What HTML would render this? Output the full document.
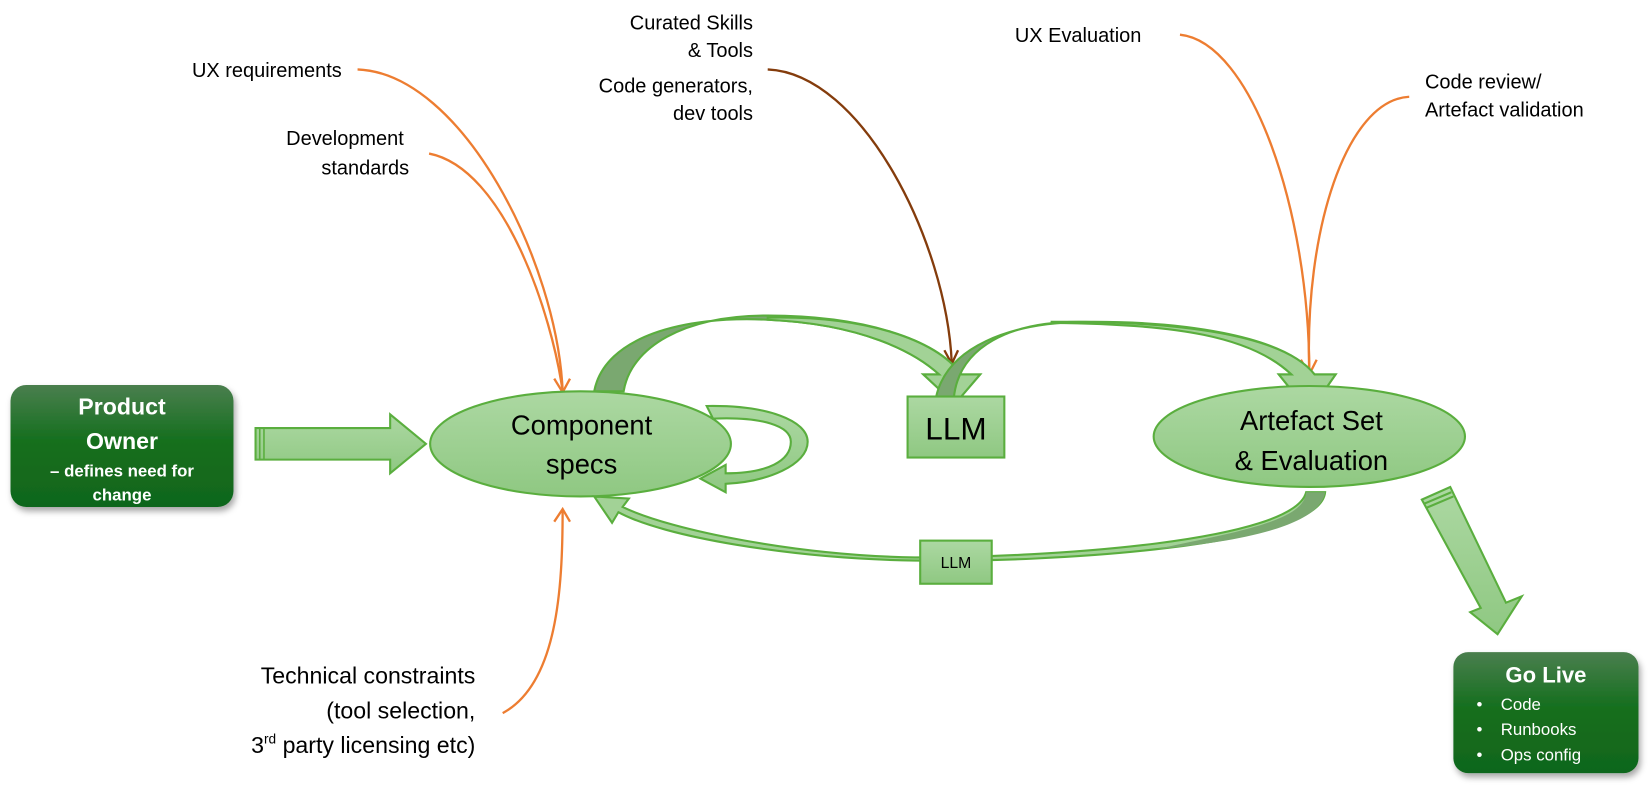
<!DOCTYPE html>
<html><head><meta charset="utf-8"><style>
body{margin:0;background:#fff;}
svg{display:block;font-family:"Liberation Sans",sans-serif;}
</style></head><body>
<svg width="1649" height="792" viewBox="0 0 1568 753" preserveAspectRatio="none" xmlns="http://www.w3.org/2000/svg">
<defs>
<linearGradient id="dg" x1="0" y1="0" x2="0" y2="1"><stop offset="0" stop-color="#4a7f4e"/><stop offset="0.45" stop-color="#166f1f"/><stop offset="1" stop-color="#10661a"/></linearGradient>
<linearGradient id="lg" x1="0" y1="0" x2="0" y2="1"><stop offset="0" stop-color="#acd8a2"/><stop offset="1" stop-color="#8fc882"/></linearGradient>
<filter id="sh" x="-10%" y="-10%" width="130%" height="130%"><feDropShadow dx="2" dy="4" stdDeviation="3" flood-color="#000" flood-opacity="0.35"/></filter>
</defs>

<g fill="none" stroke="#ed7d31" stroke-width="2.2">
<path d="M340,66 C440,70 530,250 535,372"/>
<path d="M408,146 C480,160 525,300 535,372"/>
<path d="M527,360 L535,373 L542,360"/>
<path d="M478,678 C530,650 535,560 535,484"/>
<path d="M527,496 L535,484 L542,496"/>
<path d="M1122,33 C1190,40 1245,200 1245,355"/>
<path d="M1340,92 C1280,95 1240,220 1245,355"/>
<path d="M1237,342 L1245,356 L1252,342"/>
</g>
<g fill="none" stroke="#843c0c" stroke-width="2.2">
<path d="M730,66 C820,70 900,230 905,345"/>
<path d="M898,333 L905,346 L911,333"/>
</g>

<rect x="10" y="366" width="212" height="116" rx="15" fill="url(#dg)" filter="url(#sh)"/>
<text fill="#fff" font-weight="bold" text-anchor="middle" font-size="22"><tspan x="116" y="394">Product</tspan><tspan x="116" y="427">Owner</tspan></text>
<text fill="#fff" font-weight="bold" text-anchor="middle" font-size="16"><tspan x="116" y="453">– defines need for</tspan><tspan x="116" y="476">change</tspan></text>

<path d="M243,407 L371,407 L371,394 L405,422 L371,450 L371,437 L243,437 Z" fill="url(#lg)" stroke="#5aae3e" stroke-width="2"/>
<path d="M247,407 V437 M251,407 V437" stroke="#5aae3e" stroke-width="1.5"/>

<path d="M565,372 C575,320 650,300 730,304 C820,308 870,335 893,356 L878,356 L908,384 L932,356 L914,356 C890,322 820,300 730,300 C650,300 600,330 593,372 Z" fill="#7aa870" stroke="#5aae3e" stroke-width="2"/>
<path d="M730,304 C820,308 870,335 893,356 L878,356 L908,384 L932,356 L914,356 C890,322 820,300 730,302 Z" fill="#a2d296" stroke="#5aae3e" stroke-width="2"/>
<path d="M907,378 C912,330 960,305 1030,306 C1120,308 1190,320 1228,356 L1216,356 L1245,392 L1270,356 L1250,356 C1220,318 1120,305 1030,306 C960,307 900,330 890,378 Z" fill="#7aa870" stroke="#5aae3e" stroke-width="2"/>
<path d="M1000,307 C1120,308 1190,320 1228,356 L1216,356 L1245,392 L1270,356 L1250,356 C1220,318 1120,305 1000,306 Z" fill="#a2d296" stroke="#5aae3e" stroke-width="2"/>

<rect x="863" y="377" width="92" height="58" fill="url(#lg)" stroke="#5aae3e" stroke-width="2"/>
<text x="909" y="418" font-size="30" text-anchor="middle">LLM</text>

<ellipse cx="552" cy="422" rx="143" ry="50" fill="url(#lg)" stroke="#5aae3e" stroke-width="2"/>
<text font-size="26" text-anchor="middle"><tspan x="553" y="413">Component</tspan><tspan x="553" y="450">specs</tspan></text>

<path d="M672,386 C730,385 768,400 768,420 C768,442 730,458 690,460 L690,468 L666,455 L690,442 L690,450 C730,450 752,438 752,420 C752,405 725,396 678,398 Z" fill="url(#lg)" stroke="#5aae3e" stroke-width="2"/>

<ellipse cx="1245" cy="415" rx="148" ry="48" fill="url(#lg)" stroke="#5aae3e" stroke-width="2"/>
<text font-size="26" text-anchor="middle"><tspan x="1247" y="409">Artefact Set</tspan><tspan x="1247" y="447">&amp; Evaluation</tspan></text>

<path d="M1260,468 C1255,520 1000,535 870,533 C750,531 630,510 588,487 L582,497 L565,472 L598,474 L592,482 C640,505 760,528 870,530 C1000,530 1230,515 1242,468 Z" fill="#a2d296" stroke="#5aae3e" stroke-width="2"/>
<path d="M1260,468 C1255,500 1180,515 1100,522 C1180,505 1240,495 1242,468 Z" fill="#7aa870"/>
<rect x="875" y="514" width="68" height="41" fill="url(#lg)" stroke="#5aae3e" stroke-width="2"/>
<text x="909" y="540" font-size="15" text-anchor="middle">LLM</text>

<path d="M1352,475 L1379,463 L1432,573 L1447,567 L1424,603 L1398,582 L1408,578 Z" fill="url(#lg)" stroke="#5aae3e" stroke-width="2"/>
<path d="M1354,479 L1380,468 M1356,483 L1382,472" stroke="#5aae3e" stroke-width="2"/>

<rect x="1382" y="620" width="176" height="115" rx="14" fill="url(#dg)" filter="url(#sh)"/>
<text x="1470" y="649" fill="#fff" font-weight="bold" font-size="21" text-anchor="middle">Go Live</text>
<g fill="#fff" font-size="16"><text x="1404" y="675">•</text><text x="1427" y="675">Code</text>
<text x="1404" y="699">•</text><text x="1427" y="699">Runbooks</text>
<text x="1404" y="723">•</text><text x="1427" y="723">Ops config</text></g>

<g font-size="19" fill="#000">
<text x="325" y="73" text-anchor="end">UX requirements</text>
<text x="384" y="138" text-anchor="end">Development</text>
<text x="389" y="166" text-anchor="end">standards</text>
<text x="716" y="28" text-anchor="end">Curated Skills</text>
<text x="716" y="54" text-anchor="end">&amp; Tools</text>
<text x="716" y="88" text-anchor="end">Code generators,</text>
<text x="716" y="114" text-anchor="end">dev tools</text>
<text x="965" y="40">UX Evaluation</text>
<text x="1355" y="84">Code review/</text>
<text x="1355" y="111">Artefact validation</text>
</g>
<g font-size="22" fill="#000" text-anchor="end">
<text x="452" y="650">Technical constraints</text>
<text x="452" y="683">(tool selection,</text>
<text x="452" y="716">3<tspan font-size="13" dy="-9">rd</tspan><tspan dy="9"> party licensing etc)</tspan></text>
</g>
</svg>
</body></html>
